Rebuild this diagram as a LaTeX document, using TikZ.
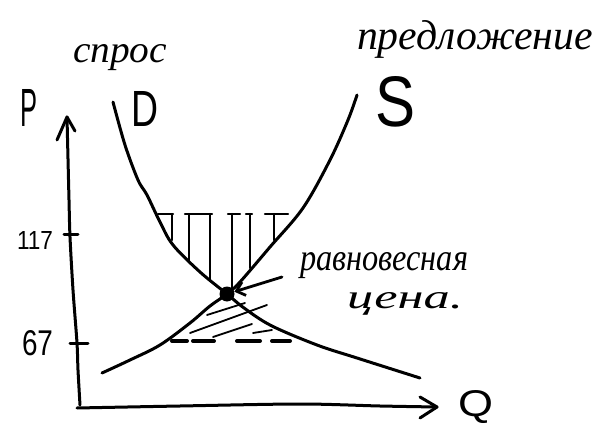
\documentclass[tikz,border=0pt]{standalone}
\usepackage{fontspec}
\setmainfont{Liberation Serif}
\newfontfamily\hand{Liberation Sans}
\usetikzlibrary{arrows.meta}
\begin{document}
\begin{tikzpicture}[x=1pt,y=-1pt,line cap=round,line join=round,
  curve/.style={line width=3pt},
  axisline/.style={line width=3pt},
  hatch/.style={line width=2.2pt},
  diag/.style={line width=1.8pt},
  dashseg/.style={line width=4pt},
  lbl/.style={anchor=base west,inner sep=0pt,outer sep=0pt}]
\useasboundingbox (0,0) rectangle (603,425);
\fill[white] (0,0) rectangle (603,425);

% texts
\node[lbl] (spros) at (73,63) {\resizebox{94pt}{18pt}{\itshape спрос}};
\node[lbl] (pred) at (357,50) {\resizebox{236pt}{!}{\itshape предложение}};
\node[lbl] (ravn) at (300,271) {\resizebox{168pt}{18pt}{\itshape равновесная}};
\node[lbl] (cena) at (347,308) {\resizebox{116pt}{16pt}{\itshape цена.}};
\node[lbl] (P) at (20,127) {\resizebox{17pt}{37pt}{\hand P}};
\node[lbl] (D) at (131,127) {\resizebox{27pt}{35pt}{\hand D}};
\node[lbl] (S) at (375,127) {\resizebox{40pt}{50pt}{\hand S}};
\node[lbl] (Q) at (458,416) {\resizebox{35pt}{26pt}{\hand Q}};
\node[lbl] (v117) at (17,250) {\resizebox{36pt}{18pt}{\hand 117}};
\node[lbl] (v67) at (22,355) {\resizebox{31pt}{25pt}{\hand 67}};

% axes
\coordinate (O) at (79,408);
\coordinate (Ptip) at (67,117);
\coordinate (Qtip) at (437,407);
\draw[axisline] plot[smooth,tension=0.5] coordinates {(80,405) (78,370) (77,343) (73,290) (70,237) (69,200) (67,117)};
\draw[axisline] (57,140) -- (Ptip) -- (75,131);
\draw[axisline] plot[smooth,tension=0.5] coordinates {(77,408) (180,406) (300,404) (380,406) (437,407)};
\draw[axisline] (420,397) -- (Qtip) -- (420,418);
% ticks
\draw[axisline] (64,235) -- (78,235);
\draw[axisline] (70,343) -- (88,343);

% demand
\draw[curve] plot[smooth,tension=0.55] coordinates {(113,102) (125,145) (138,180) (147,195) (160,222) (173,245) (200,272) (227,294) (240,305) (270,325) (317,345) (357,358) (420,378)};
% supply
\draw[curve] plot[smooth,tension=0.55] coordinates {(102,373) (130,360) (160,345) (190,323) (210,306) (227,294) (240,282) (270,247) (303,208) (330,160) (348,120) (357,95)};

% top hatching
\foreach \a/\b in {158/173,185/212,228/240,246/252,265/288}
  \draw[hatch] (\a,214) -- (\b,214);
\foreach \x/\y in {172/240,189/262,210/281,232/288,250/268,274/240}
  \draw[hatch] (\x,214) -- (\x,\y);

% lower hatching
\draw[diag] (207,315) -- (245,303);
\draw[diag] (190,333) -- (267,305);
\draw[diag] (213,337) -- (252,324);
\draw[diag] (253,333) -- (272,330);
\foreach \a/\b in {172/187,193/214,237/260,272/290}
  \draw[dashseg] (\a,341) -- (\b,341);

% equilibrium
\node[circle,fill=black,inner sep=0pt,minimum size=15pt] (eq) at (227,294) {};
\coordinate (arrtail) at (282,277);
\draw[line width=2.8pt,-{Straight Barb[length=8pt,width=14pt]}] (arrtail) -- (eq);
\end{tikzpicture}
\end{document}
